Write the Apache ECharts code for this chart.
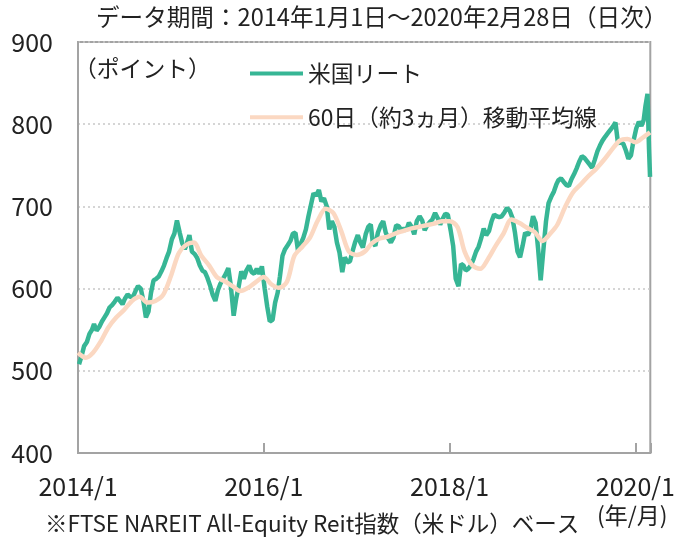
<!DOCTYPE html>
<html><head><meta charset="utf-8">
<script src="https://cdn.jsdelivr.net/npm/echarts@6/dist/echarts.min.js"></script>
<style>html,body{margin:0;padding:0;background:#fff}#c{width:678px;height:539px}</style>
</head><body><div id="c"></div>
<script>
// REIT index, three readings per month (around the 5th, 15th, 25th), Jan 2014 .. Jan 2020
const reitSampleDays = [5, 15, 25];
const reitFirstYear = 2014;
const reitValues = [
  // 2014
  508, 518, 530, 535, 545, 550, 557, 549, 553, 560, 565, 570,
  577, 580, 584, 589, 585, 581, 588, 593, 590, 590, 597, 603,
  600, 585, 565, 572, 595, 610, 612, 615, 621, 628, 637, 645,
  // 2015
  660, 667, 683, 668, 655, 648, 655, 665, 645, 642, 637, 628,
  622, 620, 613, 603, 592, 585, 598, 606, 612, 618, 625, 603,
  567, 588, 603, 621, 612, 622, 628, 620, 618, 624, 618, 627,
  // 2016
  600, 578, 560, 562, 583, 595, 615, 640, 648, 653, 658, 667,
  668, 646, 654, 662, 672, 688, 702, 716, 713, 720, 706, 710,
  700, 672, 682, 675, 656, 644, 620, 638, 632, 633, 645, 656,
  // 2017
  665, 656, 650, 666, 675, 678, 656, 652, 668, 677, 682, 668,
  661, 656, 662, 677, 676, 671, 673, 671, 680, 675, 666, 682,
  688, 683, 671, 677, 681, 684, 692, 686, 678, 685, 691, 690,
  // 2018
  671, 652, 612, 603, 630, 628, 622, 624, 628, 636, 645, 651,
  661, 673, 665, 670, 682, 690, 688, 687, 688, 693, 698, 695,
  686, 668, 645, 638, 652, 668, 665, 672, 688, 680, 648, 610,
  // 2019
  648, 682, 704, 712, 718, 727, 732, 734, 730, 726, 725, 733,
  739, 746, 754, 761, 759, 755, 751, 747, 756, 767, 774, 780,
  785, 789, 793, 797, 802, 777, 778, 776, 768, 758, 762, 780,
  // 2020 Jan
  795, 803, 798
];
const reitTailDates = ['2020-02-03', '2020-02-10', '2020-02-18', '2020-02-24', '2020-02-28'];
const reitTailValues = [805, 822, 837, 770, 736];

// 60-day moving average, read on the 1st of each month, Jan 2014 .. Feb 2020, plus the last day
const maFirstYear = 2014;
const maValues = [
  522, 516, 522, 536, 553, 565, 574, 585, 590, 583, 585, 592,
  615, 643, 653, 656, 640, 628, 614, 609, 603, 597, 601, 608,
  614, 605, 601, 608, 640, 651, 662, 683, 697, 692, 670, 645,
  641, 645, 655, 661, 663, 667, 670, 673, 675, 677, 679, 682,
  682, 675, 645, 628, 624, 636, 652, 667, 684, 680, 674, 669,
  658, 667, 678, 700, 717, 727, 737, 746, 757, 769, 780, 782,
  778, 784
];
const maTailDates = ['2020-02-28'];
const maTailValues = [790];

const xTickLabels = ['2014/1', '2016/1', '2018/1', '2020/1'];
const yTicks = [400, 500, 600, 700, 800, 900];

const seriesNames = ['米国リート', '60日（約3ヵ月）移動平均線'];

const DAY = 86400000;
const T0 = Date.UTC(2014, 0, 1);
const dayOf = (y, m, d) => (Date.UTC(y, m, d) - T0) / DAY;
const dayOfStr = s => { const p = s.split('-').map(Number); return dayOf(p[0], p[1] - 1, p[2]); };

const reitData = reitValues.map((v, i) => {
  const mi = Math.floor(i / 3), j = i % 3;
  const y = reitFirstYear + Math.floor(mi / 12), m = mi % 12;
  return [dayOf(y, m, reitSampleDays[j]), v];
}).concat(reitTailDates.map((d, i) => [dayOfStr(d), reitTailValues[i]]));

const maData = maValues.map((v, i) => {
  const y = maFirstYear + Math.floor(i / 12), m = i % 12;
  return [dayOf(y, m, 1), v];
}).concat(maTailDates.map((d, i) => [dayOfStr(d), maTailValues[i]]));

const FONT = '"Noto Sans CJK JP", "Noto Sans", sans-serif';
const TXT = '#222';
const STEP = 730.5;
const FS = 22.8;

const chart = echarts.init(document.getElementById('c'), null, { renderer: 'canvas' });
chart.setOption({
  animation: false,
  textStyle: { fontFamily: FONT },
  grid: { left: 78, right: 23, top: 42, bottom: 86, show: true, borderColor: '#a3a3a3', borderWidth: 2, backgroundColor: 'transparent' },
  xAxis: {
    type: 'value', min: 0, max: dayOf(2020, 1, 29), interval: STEP,
    axisLine: { show: true, lineStyle: { color: '#a3a3a3', width: 2 } },
    axisTick: { show: true, inside: true, length: 10, lineStyle: { color: '#a3a3a3', width: 2 } },
    splitLine: { show: false },
    axisLabel: {
      fontSize: 25, color: TXT, fontFamily: FONT, margin: 21,
      formatter: v => { const k = Math.round(v / STEP); if (Math.abs(v - k * STEP) > 1) return ''; return xTickLabels[k] || ''; }
    }
  },
  yAxis: {
    type: 'value', min: yTicks[0], max: yTicks[yTicks.length - 1], interval: 100,
    axisLine: { show: true, lineStyle: { color: '#a3a3a3', width: 2 } },
    axisTick: { show: false },
    splitLine: { show: true, lineStyle: { color: '#c8c8c8', width: 1.5, type: [2, 3] } },
    axisLabel: { fontSize: 25, color: TXT, fontFamily: FONT, margin: 25 }
  },
  legend: {
    orient: 'vertical', left: 245, top: 57, itemWidth: 53, itemHeight: 4, itemGap: 21,
    icon: 'rect', data: seriesNames,
    textStyle: { fontSize: FS, color: TXT, fontFamily: FONT }
  },
  series: [
    { name: seriesNames[0], type: 'line', data: reitData, showSymbol: false, symbol: 'none',
      color: '#37b695', lineStyle: { color: '#37b695', width: 4.5 }, z: 2 },
    { name: seriesNames[1], type: 'line', data: maData, showSymbol: false, symbol: 'none', smooth: 0.3,
      color: '#fbd8c2', lineStyle: { color: '#fbd8c2', width: 4.5 }, z: 3 }
  ],
  graphic: [
    { type: 'text', left: 96, top: 5, style: { text: 'データ期間：2014年1月1日～2020年2月28日（日次）', fontSize: 23.6, fill: TXT, fontFamily: FONT } },
    { type: 'text', left: 74, top: 57, style: { text: '（ポイント）', fontSize: FS, fill: TXT, fontFamily: FONT } },
    { type: 'text', left: 597, top: 504, style: { text: '(年/月)', fontSize: 23, fill: TXT, fontFamily: FONT } },
    { type: 'text', left: 45, top: 512, style: { text: '※FTSE NAREIT All-Equity Reit指数（米ドル）ベース', fontSize: 22.5, fill: TXT, fontFamily: FONT } }
  ]
});
</script>
</body></html>
